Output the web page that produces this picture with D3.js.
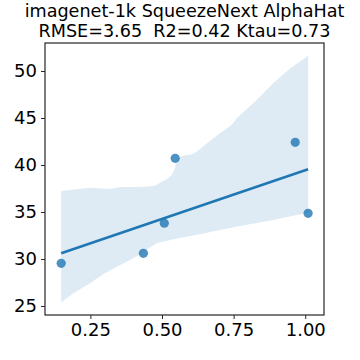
<!DOCTYPE html>
<html>
<head>
<meta charset="utf-8">
<script src="https://cdn.jsdelivr.net/npm/d3@7"></script>
<style>
  body { margin: 0; background: #fff; }
  text { font-family: "DejaVu Sans", sans-serif; fill: #000; }
</style>
</head>
<body>
<div id="chart-area"></div>
<script>
// scatter points
const xVals = [0.148, 0.435, 0.508, 0.546, 0.965, 1.010];
const yVals = [29.54, 30.60, 33.80, 40.71, 42.41, 34.86];

// confidence band edges
const bandUpperX = [0.148, 0.249, 0.319, 0.354, 0.423, 0.476, 0.493, 0.516, 0.534, 0.545, 0.551, 0.563, 0.586, 0.604, 0.621, 0.656, 0.702, 0.743, 0.761, 0.830, 0.888, 0.947, 1.010];
const bandUpperY = [37.23, 37.59, 37.45, 37.66, 37.66, 37.80, 38.12, 38.48, 38.94, 39.65, 40.35, 40.89, 41.06, 41.13, 41.42, 42.30, 43.37, 44.26, 44.97, 46.91, 48.69, 50.28, 51.63];
const bandLowerX = [0.148, 0.191, 0.249, 0.290, 0.342, 0.400, 0.435, 0.481, 0.540, 0.656, 0.772, 0.888, 0.958, 1.010];
const bandLowerY = [25.39, 26.35, 27.41, 28.30, 29.18, 30.07, 30.78, 31.67, 32.09, 32.80, 33.51, 34.15, 34.61, 34.93];

const xTicks = [0.25, 0.50, 0.75, 1.00];
const yTicks = [25, 30, 35, 40, 45, 50];
const titleLines = ["imagenet-1k SqueezeNext AlphaHat", "RMSE=3.65  R2=0.42 Ktau=0.73"];

const margin = { left: 45, right: 36, top: 43, bottom: 45 };
const width = 360 - margin.left - margin.right;
const height = 360 - margin.top - margin.bottom;

const svg = d3.select("#chart-area")
    .append("svg")
    .attr("width", 360)
    .attr("height", 360);

// title
svg.selectAll(".title")
    .data(titleLines)
    .enter()
    .append("text")
    .attr("class", "title")
    .attr("x", margin.left + width / 2)
    .attr("y", (d, i) => 16.5 + i * 20)
    .attr("text-anchor", "middle")
    .attr("font-size", "17.6px")
    .style("white-space", "pre")
    .text(d => d);

const g = svg.append("g")
    .attr("transform", "translate(" + margin.left + ", " + margin.top + ")");

const x = d3.scaleLinear()
    .domain([0.0915, 1.0655])
    .range([0, width]);
const y = d3.scaleLinear()
    .domain([24.04, 52.98])
    .range([height, 0]);

// band
const upper = bandUpperX.map((d, i) => [d, bandUpperY[i]]);
const lower = bandLowerX.map((d, i) => [d, bandLowerY[i]]).reverse();
const band = upper.concat(lower);
g.append("path")
    .datum(band)
    .attr("d", d3.line().x(d => x(d[0])).y(d => y(d[1])).curve(d3.curveLinear))
    .attr("fill", "#1f77b4")
    .attr("fill-opacity", 0.15)
    .attr("stroke", "none");

// least squares fit
const mx = d3.mean(xVals), my = d3.mean(yVals);
const slope = d3.sum(xVals, (d, i) => (d - mx) * (yVals[i] - my)) / d3.sum(xVals, d => (d - mx) * (d - mx));
const icpt = my - slope * mx;
const x0 = d3.min(xVals), x1 = d3.max(xVals);
g.append("line")
    .attr("x1", x(x0)).attr("y1", y(icpt + slope * x0))
    .attr("x2", x(x1)).attr("y2", y(icpt + slope * x1))
    .attr("stroke", "#1f77b4")
    .attr("stroke-width", 2.5);

// points
g.selectAll("circle")
    .data(xVals)
    .enter()
    .append("circle")
    .attr("cx", d => x(d))
    .attr("cy", (d, i) => y(yVals[i]))
    .attr("r", 4.6)
    .attr("fill", "#1f77b4")
    .attr("fill-opacity", 0.8);

// axes
const xAxisCall = d3.axisBottom(x)
    .tickValues(xTicks)
    .tickFormat(d3.format(".2f"))
    .tickSize(4)
    .tickPadding(4);
const xg = g.append("g")
    .attr("transform", "translate(0, " + height + ")")
    .call(xAxisCall);
const yAxisCall = d3.axisLeft(y)
    .tickValues(yTicks)
    .tickSize(4)
    .tickPadding(4);
const yg = g.append("g")
    .call(yAxisCall);
[xg, yg].forEach(a => {
    a.select(".domain").remove();
    a.selectAll(".tick line").attr("stroke", "#262626").attr("stroke-width", 1);
    a.selectAll("text").attr("font-size", "18px").attr("font-family", "DejaVu Sans").attr("fill", "#000");
});

// frame
g.append("rect")
    .attr("x", 0).attr("y", 0)
    .attr("width", width).attr("height", height)
    .attr("fill", "none")
    .attr("stroke", "#262626")
    .attr("stroke-width", 1.2);
</script>
</body>
</html>
